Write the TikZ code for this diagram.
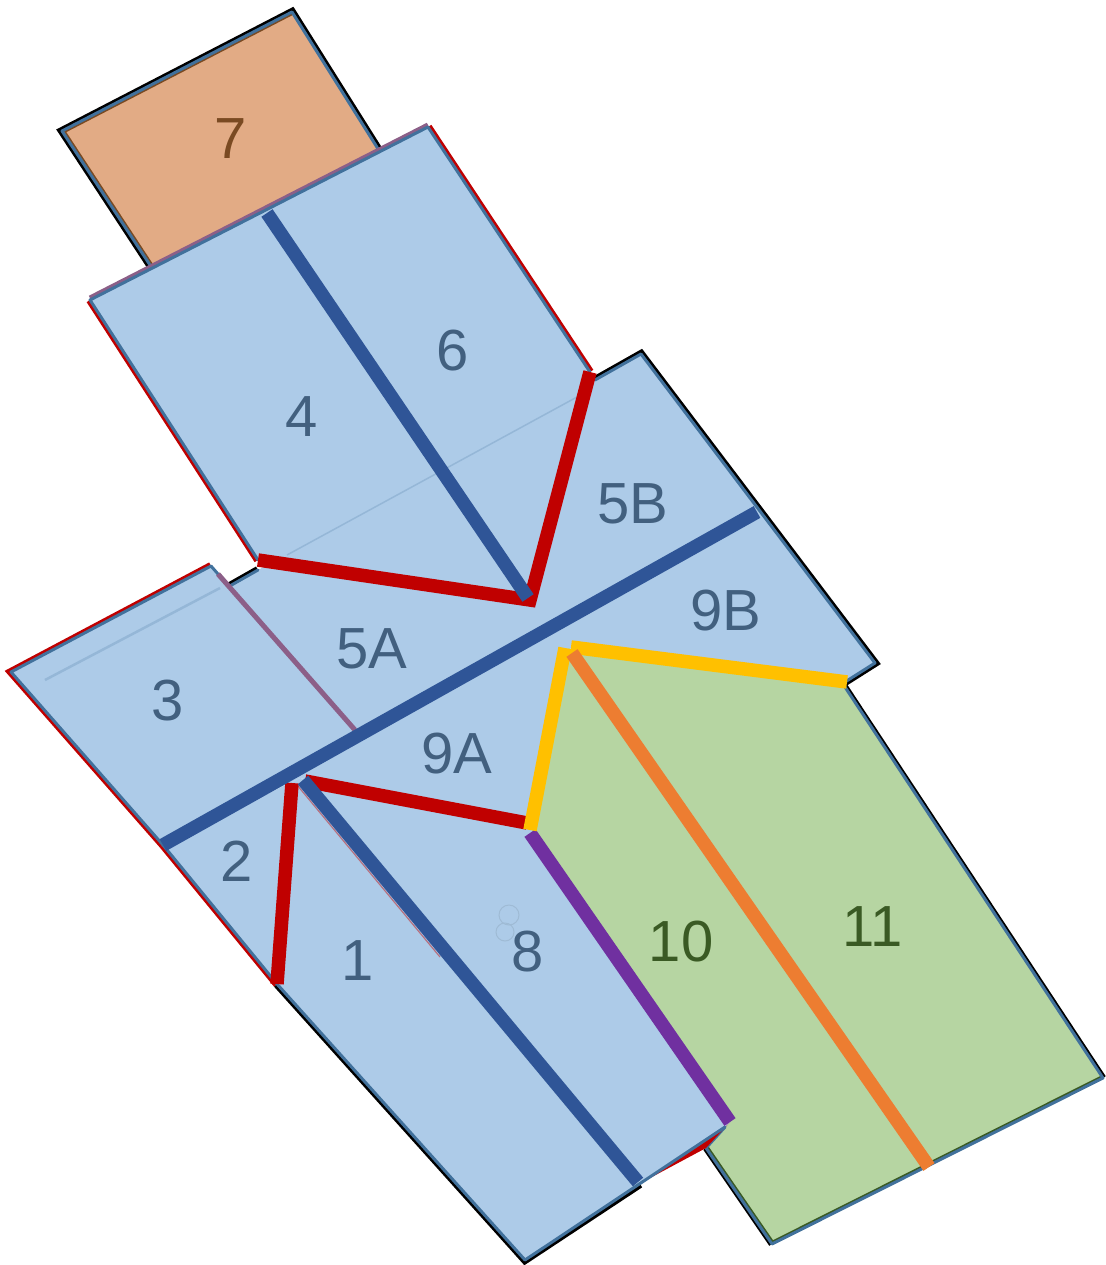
\documentclass[tikz,border=0pt]{standalone}
\usepackage{fontspec}
\setmainfont{Liberation Sans}
\definecolor{paneblue}{HTML}{ADCBE8}
\definecolor{panegreen}{HTML}{B6D5A2}
\definecolor{paneorange}{HTML}{E2AB85}
\definecolor{ridgeblue}{HTML}{2F5597}
\definecolor{hipred}{HTML}{C00000}
\definecolor{gold}{HTML}{FFC000}
\definecolor{ridgeorange}{HTML}{ED7D31}
\definecolor{valley}{HTML}{7030A0}
\definecolor{edgeblue}{HTML}{41719C}
\definecolor{txtblue}{HTML}{42607F}
\definecolor{txtgreen}{HTML}{3A5A24}
\definecolor{txtbrown}{HTML}{7A4A22}
\definecolor{mauve}{HTML}{8C5F88}
\tikzset{
  edgeline/.style={draw=edgeblue,line width=3pt,line join=round,line cap=round},
  blackshadow/.style={draw=black,line width=8pt,line join=miter,line cap=butt},
  redshadow/.style={draw=hipred,line width=8pt,line join=miter,line cap=butt},
  innerglow/.style={line width=6pt,line join=round},
  heavy/.style={line width=13.5pt,line cap=butt},
  label/.style={font=\fontsize{58}{58}\selectfont,inner sep=0pt,text=txtblue},
}
\begin{document}
\begin{tikzpicture}[x=1pt,y=-1pt]
\useasboundingbox (0,0) rectangle (1105,1265);
% named corners
\coordinate (o1) at (62,131); \coordinate (o2) at (292,12); \coordinate (o3) at (380,152); \coordinate (o4) at (150,265);
\coordinate (u1) at (90,300); \coordinate (u2) at (428,127); \coordinate (u3) at (590,372); \coordinate (u4) at (530,600); \coordinate (u5) at (258,560);
\coordinate (m1) at (228,587); \coordinate (m2) at (641,354); \coordinate (m3) at (875,663); \coordinate (m4) at (845,682);
\coordinate (m5) at (568,648); \coordinate (m6) at (530,828); \coordinate (m7) at (300,778); \coordinate (m8) at (163,845);
\coordinate (m9) at (258,570); \coordinate (m10) at (595,380);
\coordinate (t1) at (11,672); \coordinate (t2) at (211,566); \coordinate (t3) at (355,730);
\coordinate (l1) at (277,984); \coordinate (l2) at (525,1260); \coordinate (l3) at (725,1127); \coordinate (l4) at (640,1184);
\coordinate (g1) at (843,684); \coordinate (g2) at (1103,1078); \coordinate (g3) at (772,1244); \coordinate (g4) at (706,1148);
% pane 7
\draw[blackshadow] (o4) -- (o1) -- (o2) -- (o3);
\fill[paneorange] (o1) -- (o2) -- (o3) -- (o4) -- cycle;
\begin{scope}
\clip (o1) -- (o2) -- (o3) -- (o4) -- cycle;
\draw[innerglow,draw=txtbrown] (o4) -- (o1) -- (o2);
\end{scope}
\draw[edgeline] (o4) -- (o1) -- (o2) -- (o3);
% green pane
\draw[blackshadow,line width=6.5pt] (g1) -- (g2);
\draw[blackshadow,line width=6.5pt] (g3) -- (g4);
\fill[panegreen] (m5) -- (g1) -- (g2) -- (g3) -- (g4) -- (l3) -- (m6) -- cycle;
\begin{scope}
\clip (m5) -- (g1) -- (g2) -- (g3) -- (g4) -- (l3) -- (m6) -- cycle;
\draw[innerglow,draw=txtgreen] (g2) -- (g3) -- (g4);
\end{scope}
\draw[edgeline] (g1) -- (g2) -- (g3) -- (g4) -- (l3);
% middle pane 5 and 9
\draw[blackshadow] (m1) -- (m9);
\draw[blackshadow] (m10) -- (m2) -- (m3) -- (m4);
\fill[paneblue] (m1) -- (m2) -- (m3) -- (m4) -- (m5) -- (m6) -- (m7) -- (m8) -- cycle;
\draw[edgeline] (m1) -- (m9);
\draw[edgeline] (m10) -- (m2) -- (m3) -- (m4);
% lower pane 1, 2, 8
\fill[hipred] (637,1185) -- (730,1122) -- (g4) -- cycle;
\draw[blackshadow] (l1) -- (l2) -- (l4);
\draw[redshadow] (m8) -- (l1);
\fill[paneblue] (m8) -- (m7) -- (m6) -- (730,1122) -- (l3) -- (l2) -- (l1) -- cycle;
\draw[edgeline] (m8) -- (l1) -- (l2) -- (l3);
\draw[hipred!45!paneblue,line width=1.2pt] (297,785) -- (440,957);
% pane 3
\draw[redshadow] (m8) -- (t1) -- (t2);
\fill[paneblue] (t1) -- (t2) -- (t3) -- (m8) -- cycle;
\draw[edgeline] (m8) -- (t1) -- (t2) -- (218,574);
\draw[mauve,line width=5pt] (218,574) -- (t3);
% upper pane 4, 6
\draw[redshadow] (u5) -- (u1);
\draw[redshadow] (u2) -- (u3);
\fill[paneblue] (u1) -- (u2) -- (u3) -- (u4) -- (u5) -- cycle;
\draw[mauve,line width=5pt] ([yshift=2pt]u1) -- ([yshift=2pt]u2);
\draw[edgeline] (u5) -- (u1) -- (u2) -- (u3);
% faint creases and smudge
\draw[edgeblue!22!paneblue,line width=1.5pt] (287,555) -- (577,397);
\draw[edgeblue!22!paneblue,line width=2.5pt] (45,680) -- (220,588);
\draw[paneblue!92!black,line width=1pt] (509,915) circle[radius=10];
\draw[paneblue!92!black,line width=1pt] (505,932) circle[radius=9];
% heavy lines
\coordinate (redA) at (258,560); \coordinate (redB) at (530,600); \coordinate (redC) at (590,372);
\draw[heavy,hipred,line join=miter] (redA) -- (redB) -- (redC);
\coordinate (ridgeA) at (267,213); \coordinate (ridgeB) at (528,598);
\draw[heavy,ridgeblue] (ridgeA) -- (ridgeB);
\coordinate (red2A) at (277,984); \coordinate (red2B) at (292,783);
\draw[heavy,hipred] (red2A) -- (red2B);
\coordinate (red3A) at (305,781); \coordinate (red3B) at (527,823);
\draw[heavy,hipred] (red3A) -- (red3B);
\coordinate (mainA) at (163,845); \coordinate (mainB) at (757,512);
\draw[heavy,ridgeblue] (mainA) -- (mainB);
\coordinate (r8A) at (303,780); \coordinate (r8B) at (638,1182);
\draw[heavy,ridgeblue] (r8A) -- (r8B);
\coordinate (valA) at (530,833); \coordinate (valB) at (730,1122);
\draw[heavy,valley] (valA) -- (valB);
\coordinate (goldA) at (530,830); \coordinate (goldB) at (565,648);
\draw[heavy,gold] (goldA) -- (goldB);
\coordinate (goldC) at (571,647); \coordinate (goldD) at (847,682);
\draw[heavy,gold] (goldC) -- (goldD);
\coordinate (oraA) at (572,653); \coordinate (oraB) at (929,1167);
\draw[heavy,ridgeorange] (oraA) -- (oraB);
% labels
\node[label,text=txtbrown] (n7) at (231,139) {7};
\node[label] (n6) at (453,351) {6};
\node[label] (n4) at (302,417) {4};
\node[label] (n5B) at (633,504) {5B};
\node[label] (n9B) at (726,611) {9B};
\node[label] (n5A) at (372,649) {5A};
\node[label] (n3) at (168,701) {3};
\node[label] (n9A) at (457,754) {9A};
\node[label] (n2) at (237,861) {2};
\node[label] (n1) at (358,961) {1};
\node[label] (n8) at (528,952) {8};
\node[label,text=txtgreen] (n10) at (681,942) {10};
\node[label,text=txtgreen] (n11) at (873,927) {11};
\end{tikzpicture}
\end{document}
